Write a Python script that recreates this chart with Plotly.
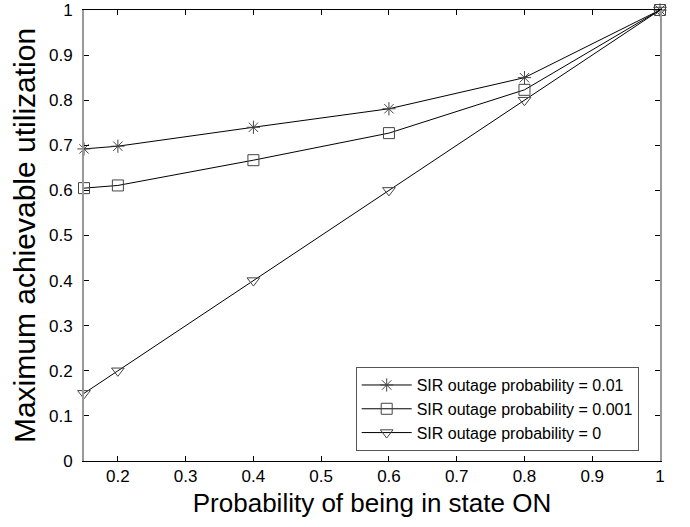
import plotly.graph_objects as go

x_vals = [0.15, 0.2, 0.4, 0.6, 0.8, 1.0]
y_001 = [0.692, 0.698, 0.740, 0.781, 0.850, 1.0]
y_0001 = [0.605, 0.611, 0.667, 0.727, 0.823, 1.0]
y_0 = [0.15, 0.20, 0.40, 0.60, 0.80, 1.0]
names = ["SIR outage probability = 0.01", "SIR outage probability = 0.001", "SIR outage probability = 0"]
symbols = ["asterisk-open", "square-open", "triangle-down-open"]
x_ticks = [0.2, 0.3, 0.4, 0.5, 0.6, 0.7, 0.8, 0.9, 1]
y_ticks = [0, 0.1, 0.2, 0.3, 0.4, 0.5, 0.6, 0.7, 0.8, 0.9, 1]

fig = go.Figure()
for ys, nm, sym in zip([y_001, y_0001, y_0], names, symbols):
    fig.add_trace(go.Scatter(
        x=x_vals, y=ys, name=nm, mode="lines+markers",
        line=dict(color="black", width=1),
        marker=dict(symbol=sym, size=11, color="#444444", line=dict(width=1, color="#444444")),
    ))

FONT = "Liberation Sans, Arial, sans-serif"
fig.update_layout(
    width=690, height=527,
    margin=dict(l=84, r=30, t=10, b=66),
    paper_bgcolor="white", plot_bgcolor="white",
    font=dict(family=FONT, color="black"),
    showlegend=True,
    legend=dict(
        x=0.963, y=0.022, xanchor="right", yanchor="bottom",
        bgcolor="white", bordercolor="#555555", borderwidth=1,
        font=dict(size=16, family=FONT), itemwidth=50,
        tracegroupgap=0,
    ),
    xaxis=dict(
        range=[0.15, 1.0], tickvals=x_ticks, ticktext=[str(v) for v in x_ticks],
        ticks="inside", ticklen=5, tickcolor="black", mirror="ticks",
        showline=True, linecolor="black", linewidth=1, showgrid=False, zeroline=False,
        tickfont=dict(size=17), ticklabeloverflow="allow", automargin=False,
        title=dict(text="Probability of being in state ON", font=dict(size=26), standoff=8),
    ),
    yaxis=dict(
        range=[0, 1.0], tickvals=y_ticks, ticktext=[str(v) for v in y_ticks],
        ticks="inside", ticklen=5, tickcolor="black", mirror="ticks",
        showline=True, linecolor="#999999", linewidth=2, showgrid=False, zeroline=False,
        tickfont=dict(size=17), ticklabeloverflow="allow", ticklabelstandoff=6, automargin=False,
        title=dict(text="Maximum achievable utilization", font=dict(size=30), standoff=4),
    ),
)
fig.update_traces(cliponaxis=False)
fig.write_html("out.html")
